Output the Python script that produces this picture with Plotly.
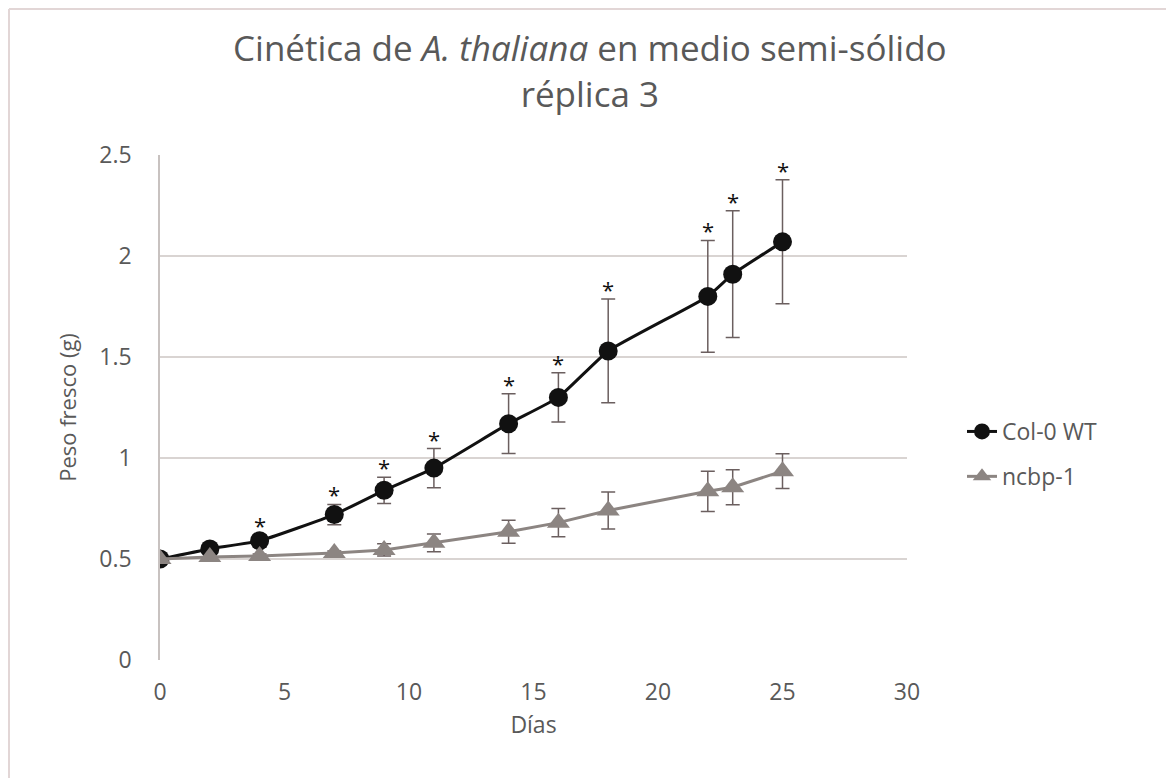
import plotly.graph_objects as go

dias = [0, 2, 4, 7, 9, 11, 14, 16, 18, 22, 23, 25]
col0 = [0.50, 0.55, 0.59, 0.72, 0.84, 0.95, 1.17, 1.30, 1.53, 1.80, 1.91, 2.07]
col0_err = [0.0, 0.01, 0.03, 0.05, 0.065, 0.097, 0.148, 0.122, 0.257, 0.277, 0.314, 0.307]
ncbp = [0.50, 0.51, 0.515, 0.53, 0.545, 0.58, 0.635, 0.68, 0.74, 0.835, 0.855, 0.935]
ncbp_err = [0.0, 0.0, 0.01, 0.01, 0.03, 0.044, 0.057, 0.07, 0.092, 0.10, 0.087, 0.086]
signif = [False, False, True, True, True, True, True, True, True, True, True, True]

OFF = 8  # page body margin
W, H = 1174 - OFF, 778 - OFF
# plot area in window pixels: x 160..907, y 155..660
L, R, T, B = 160 - OFF, 1174 - 907, 155 - OFF, 778 - 660
pw, ph = W - L - R, H - T - B

def px_x(p):
    return (p - OFF - L) / pw

def px_y(p):
    return (H - B - (p - OFF)) / ph

gray_txt = "#595959"
font_fam = "Open Sans, Lato, sans-serif"

fig = go.Figure()
fig.add_trace(go.Scatter(
    x=dias, y=col0, name="Col-0 WT", mode="lines+markers",
    line=dict(color="#111111", width=3, shape="spline", smoothing=0.4),
    marker=dict(symbol="circle", size=19, color="#111111"),
    error_y=dict(type="data", array=col0_err, color="#6b5f5f", thickness=1.5, width=7),
    legendgroup="a",
))
fig.add_trace(go.Scatter(
    x=dias, y=ncbp, name="ncbp-1", mode="lines+markers",
    line=dict(color="#8c8582", width=3),
    marker=dict(symbol="triangle-up", size=20, color="#8c8582"),
    error_y=dict(type="data", array=ncbp_err, color="#6b5f5f", thickness=1.5, width=7),
    legendgroup="b",
))

for d, v, e, s in zip(dias, col0, col0_err, signif):
    if s:
        fig.add_annotation(x=d, y=v + e, text="*", showarrow=False, yanchor="bottom",
                           yshift=-7, font=dict(size=22, color="#111111", family=font_fam))

# title (two lines)
fig.add_annotation(xref="paper", yref="paper", x=px_x(590), y=px_y(70),
                   text="Cinética de <i>A. thaliana</i> en medio semi-sólido<br>réplica 3",
                   showarrow=False, xanchor="center", yanchor="middle", align="center",
                   font=dict(size=35, color=gray_txt, family=font_fam))

# border lines (top and left)
fig.add_shape(type="line", xref="paper", yref="paper", x0=px_x(9), x1=px_x(1190),
              y0=px_y(9), y1=px_y(9), line=dict(color="#e2d6d6", width=2))
fig.add_shape(type="line", xref="paper", yref="paper", x0=px_x(9), x1=px_x(9),
              y0=px_y(9), y1=px_y(800), line=dict(color="#e2d6d6", width=2))

fig.update_layout(
    width=W, height=H,
    margin=dict(l=L, r=R, t=T, b=B, autoexpand=False),
    paper_bgcolor="white", plot_bgcolor="white",
    font=dict(family=font_fam, color=gray_txt, size=22),
    showlegend=True,
    legend=dict(x=px_x(962), y=px_y(410), xanchor="left", yanchor="top",
                font=dict(size=23, color=gray_txt), tracegroupgap=12,
                traceorder="grouped", bgcolor="rgba(0,0,0,0)"),
    xaxis=dict(range=[0, 30], tickvals=[0, 5, 10, 15, 20, 25, 30], showgrid=False,
               zeroline=False, showline=False, ticks="", ticklabelstandoff=16,
               tickfont=dict(size=23, color=gray_txt),
               title=dict(text="Días", font=dict(size=23, color=gray_txt), standoff=10)),
    yaxis=dict(range=[0, 2.5], tickvals=[0, 0.5, 1, 1.5, 2, 2.5],
               ticktext=["0", "0.5", "1", "1.5", "2", "2.5"],
               showgrid=True, gridcolor="#d9d4d2", gridwidth=1.5,
               zeroline=False, showline=True, linecolor="#c8c2c0", linewidth=1.5,
               ticks="", ticklabelstandoff=22,
               tickfont=dict(size=23, color=gray_txt),
               title=dict(text="Peso fresco (g)", font=dict(size=22, color=gray_txt), standoff=17)),
)
fig.write_html("out.html")
